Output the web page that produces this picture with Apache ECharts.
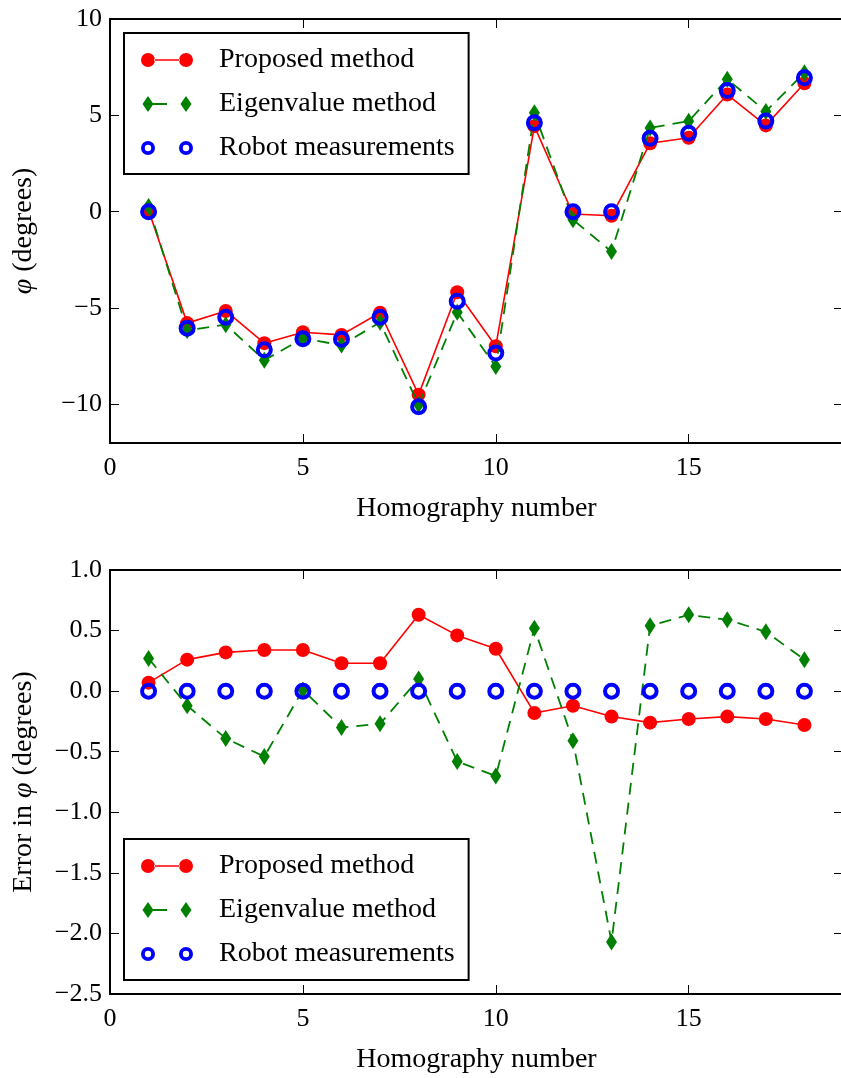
<!DOCTYPE html>
<html>
<head>
<meta charset="utf-8">
<script src="https://cdn.jsdelivr.net/npm/echarts@6/dist/echarts.min.js"></script>
<style>
html,body{margin:0;padding:0;background:#fff;}
#chart{width:841px;height:1078px;}
</style>
</head>
<body>
<div id="chart"></div>
<script>
// ---- data ----
const homography = [1,2,3,4,5,6,7,8,9,10,11,12,13,14,15,16,17,18];
// top plot: phi (degrees)
const phiProposed = [0.07,-5.78,-5.15,-6.82,-6.25,-6.39,-5.24,-9.49,-4.18,-6.98,4.44,-0.12,-0.21,3.55,3.84,6.08,4.48,6.67];
const phiEigen    = [0.27,-6.16,-5.86,-7.70,-6.58,-6.92,-5.74,-10.02,-5.22,-8.03,5.14,-0.41,-2.07,4.35,4.70,6.88,5.20,7.21];
const phiRobot    = [0,-6.04,-5.47,-7.16,-6.59,-6.62,-5.47,-10.12,-4.64,-7.33,4.62,0,0,3.81,4.07,6.29,4.71,6.95];
// bottom plot: error in phi (degrees)
const errProposed = [0.07,0.26,0.32,0.34,0.34,0.23,0.23,0.63,0.46,0.35,-0.18,-0.12,-0.21,-0.26,-0.23,-0.21,-0.23,-0.28];
const errEigen    = [0.27,-0.12,-0.39,-0.54,0.01,-0.30,-0.27,0.10,-0.58,-0.70,0.52,-0.41,-2.07,0.54,0.63,0.59,0.49,0.26];
const errRobot    = [0,0,0,0,0,0,0,0,0,0,0,0,0,0,0,0,0,0];
// tick labels
const xTicks = [0,5,10,15];
const phiTicks = [-10,-5,0,5,10];
const errTicks = [-2.5,-2.0,-1.5,-1.0,-0.5,0.0,0.5,1.0];
const names = ['Proposed method','Eigenvalue method','Robot measurements'];

// ---- styling ----
const FONT = '"Liberation Serif", "DejaVu Serif", serif';
const RED = '#ff0000', GREEN = '#008000', BLUE = '#0000ff';
const pairs = ys => homography.map((x,i)=>[x, ys[i]]);
const minus = s => String(s).replace('-', '\u2212');

const axisLine = {show:true, onZero:false, lineStyle:{color:'#000', width:2}};
const tick = {show:true, inside:true, length:9, lineStyle:{color:'#000', width:1}};
const labelStyle = {color:'#000', fontFamily:FONT, fontSize:26};

function xAxes(grid){
  const common = {type:'value', gridIndex:grid, min:0, max:19, splitLine:{show:false}, axisLine};
  return [
    Object.assign({}, common, {position:'bottom',
      axisTick:Object.assign({}, tick, {customValues:xTicks}),
      axisLabel:Object.assign({}, labelStyle, {margin:12, customValues:xTicks}),
      name:'Homography number', nameLocation:'middle', nameGap:52,
      nameTextStyle:{color:'#000', fontFamily:FONT, fontSize:28}}),
    Object.assign({}, common, {position:'top',
      axisTick:Object.assign({}, tick, {customValues:xTicks}),
      axisLabel:{show:false}})
  ];
}
function yAxes(grid, min, max, ticks, fmt, nameRich){
  const common = {type:'value', gridIndex:grid, min, max, splitLine:{show:false}, axisLine};
  return [
    Object.assign({}, common, {position:'left',
      axisTick:Object.assign({}, tick, {customValues:ticks}),
      axisLabel:Object.assign({}, labelStyle, {margin:8, customValues:ticks, formatter:fmt}),
      name:nameRich, nameLocation:'middle', nameGap:72,
      nameTextStyle:{color:'#000', fontFamily:FONT, fontSize:28,
        rich:{i:{fontStyle:'italic', fontFamily:FONT, fontSize:28, color:'#000'}}}}),
    Object.assign({}, common, {position:'right',
      axisTick:Object.assign({}, tick, {customValues:ticks}),
      axisLabel:{show:false}})
  ];
}

function seriesFor(xi, yi, p, e, r){
  return [
    {name:names[0], type:'line', xAxisIndex:xi, yAxisIndex:yi, data:pairs(p),
     symbol:'circle', symbolSize:14, itemStyle:{color:RED},
     lineStyle:{color:RED, width:1.6}, z:2},
    {name:names[1], type:'line', xAxisIndex:xi, yAxisIndex:yi, data:pairs(e),
     symbol:'diamond', symbolSize:[11,17], itemStyle:{color:GREEN},
     lineStyle:{color:GREEN, width:1.8, type:[12,8]}, z:3},
    {name:names[2], type:'scatter', xAxisIndex:xi, yAxisIndex:yi, data:pairs(r),
     symbol:'circle', symbolSize:13,
     itemStyle:{color:'rgba(0,0,0,0)', borderColor:BLUE, borderWidth:4, opacity:1}, z:4}
  ];
}

const ICON_RED = 'path://M0,7A7,7,0,1,0,14,7A7,7,0,1,0,0,7Z M13,6.2H39V7.8H13Z M38,7A7,7,0,1,0,52,7A7,7,0,1,0,38,7Z';
const ICON_GREEN = 'path://M7,0L12.5,8L7,16L1.5,8Z M11,7.1H26V8.9H11Z M45,0L50.5,8L45,16L39.5,8Z';
const ICON_BLUE = 'path://M0,7A7,7,0,1,0,14,7A7,7,0,1,0,0,7Z M3.8,7A3.2,3.2,0,1,1,10.2,7A3.2,3.2,0,1,1,3.8,7Z M38,7A7,7,0,1,0,52,7A7,7,0,1,0,38,7Z M41.8,7A3.2,3.2,0,1,1,48.2,7A3.2,3.2,0,1,1,41.8,7Z';

function legendAt(top){
  return {
    orient:'vertical', left:124, top:top,
    backgroundColor:'#fff', borderColor:'#000', borderWidth:2, borderRadius:0,
    padding:[13,14,12,17], itemGap:16, itemWidth:52, itemHeight:16,
    selectedMode:false,
    textStyle:{color:'#000', fontFamily:FONT, fontSize:28, lineHeight:28, padding:[0,0,0,21]},
    data:[
      {name:names[0], icon:ICON_RED, itemStyle:{color:RED, borderWidth:0}},
      {name:names[1], icon:ICON_GREEN, itemStyle:{color:GREEN, borderWidth:0}},
      {name:names[2], icon:ICON_BLUE, itemStyle:{color:BLUE, borderWidth:0, opacity:1}}
    ]
  };
}

const chart = echarts.init(document.getElementById('chart'), null, {renderer:'canvas'});
chart.setOption({
  animation:false,
  backgroundColor:'#fff',
  grid:[
    {left:110, top:19, width:733, height:424, containLabel:false, outerBoundsMode:'none'},
    {left:110, top:570, width:733, height:424, containLabel:false, outerBoundsMode:'none'}
  ],
  xAxis:[...xAxes(0), ...xAxes(1)],
  yAxis:[
    ...yAxes(0, -12, 10, phiTicks, v=>minus(v), '{i|φ} (degrees)'),
    ...yAxes(1, -2.5, 1.0, errTicks, v=>minus(Number(v).toFixed(1)), 'Error in {i|φ} (degrees)')
  ],
  legend:[legendAt(33), legendAt(839)],
  series:[...seriesFor(0,0,phiProposed,phiEigen,phiRobot), ...seriesFor(2,2,errProposed,errEigen,errRobot)]
});
</script>
</body>
</html>
